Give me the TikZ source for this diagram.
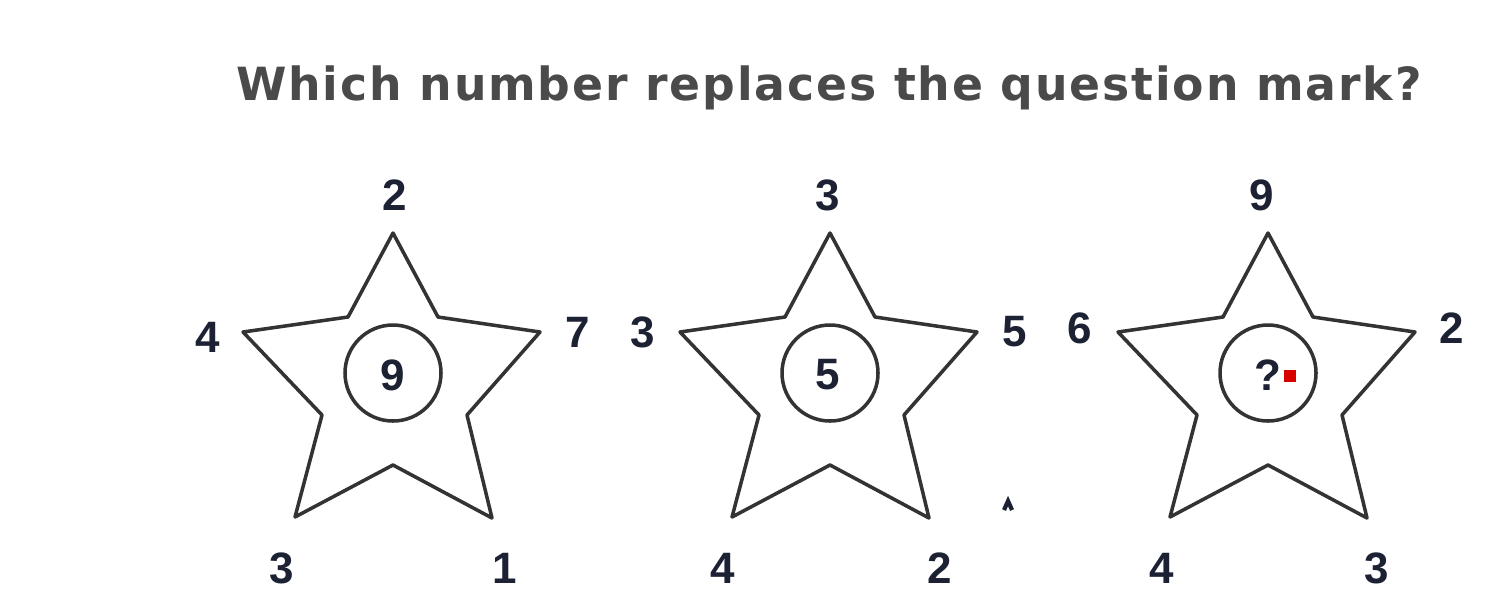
\documentclass[tikz,border=0pt]{standalone}
\usepackage{fontspec}
\setmainfont{Liberation Sans}
\newfontfamily\titlefont[LetterSpace=4]{DejaVu Sans}
\definecolor{numcol}{HTML}{1C2233}
\definecolor{linecol}{HTML}{333333}
\definecolor{titlecol}{HTML}{4A4A4A}
\tikzset{
  starline/.style={draw=linecol, line width=1pt, line join=round},
  ringline/.style={draw=linecol, line width=1pt},
  num/.style={text=numcol, font=\fontsize{12.5pt}{14pt}\selectfont\bfseries, inner sep=0pt},
  starshape/.pic={
    \draw[starline] (0,-142) -- (45,-58) -- (147,-43) -- (74,40) -- (99,143) -- (0,90) -- (-98,142) -- (-71,40) -- (-150,-43) -- (-45,-58) -- cycle;
    \draw[ringline] (0,-2) circle (48);
  },
}
\begin{document}
\begin{tikzpicture}[x=0.01cm,y=-0.01cm]
\useasboundingbox (0,0) rectangle (1504,608);
\fill[white] (0,0) rectangle (1504,608);
\node[text=titlecol, font=\titlefont\fontsize{13pt}{16pt}\selectfont\bfseries, inner sep=0pt] (title) at (829,88) {Which number replaces the question mark?};
% star 1
\pic at (393,375) {starshape};
\node[num] (a0) at (393,375) {9};
\node[num] (a1) at (395,195) {2};
\node[num] (a2) at (208,337) {4};
\node[num] (a3) at (578,332) {7};
\node[num] (a4) at (282,568) {3};
\node[num] (a5) at (505,568) {1};
% star 2
\pic at (830,375) {starshape};
\node[num] (b0) at (828,375) {5};
\node[num] (b1) at (828,195) {3};
\node[num] (b2) at (643,332) {3};
\node[num] (b3) at (1015,332) {5};
\node[num] (b4) at (723,568) {4};
\node[num] (b5) at (940,568) {2};
% star 3
\pic at (1268,375) {starshape};
\node[num] (c0) at (1268,375) {?};
\fill[red!85!black] (1284,370) rectangle (1296,382);
\node[num] (c1) at (1262,195) {9};
\node[num] (c2) at (1080,328) {6};
\node[num] (c3) at (1452,328) {2};
\node[num] (c4) at (1162,568) {4};
\node[num] (c5) at (1377,568) {3};
% stray mark
\draw[numcol, line width=1.2pt] (1004,510) -- (1008,501) -- (1012,510);
\end{tikzpicture}
\end{document}
